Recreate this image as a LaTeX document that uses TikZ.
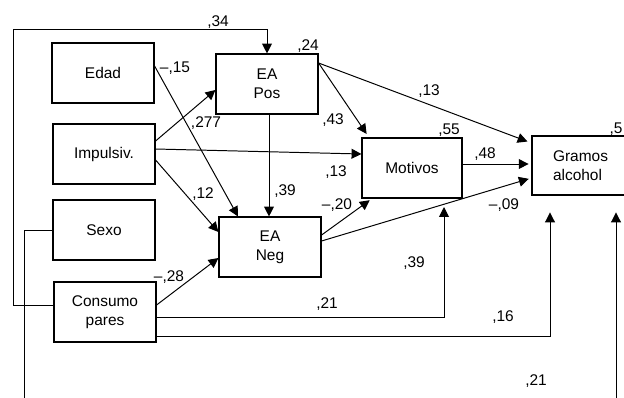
\documentclass[tikz,border=0pt]{standalone}
\usepackage{fontspec}
\setmainfont{Liberation Sans}
\usetikzlibrary{arrows.meta}

\tikzset{
  box/.style={draw, line width=0.8pt, minimum width=2.55cm, minimum height=1.5cm, align=center},
  arr/.style={-{Triangle[length=7pt,width=7pt]}},
}

\begin{document}
\begin{tikzpicture}[x=0.025cm, y=-0.025cm, line width=0.7pt,
  font=\fontsize{11}{13.5}\selectfont]
\useasboundingbox (0,0) rectangle (624,397);

% boxes
\node[box] (edad) at (103,73) {Edad};
\node[box] (impulsiv) at (104,154) {Impulsiv.};
\node[box] (sexo) at (104,230) {Sexo};
\node[box] (consumo) at (105,312) {Consumo\\pares};
\node[box] (ea pos) at (267,84) {EA\\Pos};
\node[box] (ea neg) at (270,247) {EA\\Neg};
\node[box, minimum width=2.5cm] (motivos) at (412,168) {Motivos};
\node[box, minimum width=2.5cm, minimum height=1.475cm, text width=1.45cm, align=left]
  (gramos) at (582,165.5) {Gramos\\alcohol};

% consumo pares -> EA Pos (top loop)
\draw[arr] (consumo.west |- 0,305) -- (13,305) -- (13,29) -- (ea pos.north |- 0,29) -- (ea pos.north);
\node at (218,22) {,34};

% sexo -> gramos alcohol (runs below the picture)
\draw[arr, shorten >=12pt] (sexo.west) -| (24,410) -| (gramos.south -| 616,0);
\node at (536,381) {,21};

% paths into EA Pos and EA Neg
\draw[arr] (impulsiv.east |- 0,141) -- (ea pos.west |- 0,90);
\node at (206,123) {,277};
\draw[arr] (edad.east |- 0,66) -- (ea neg.north -| 238,0);
\node at (175,68) {--,15};
\draw[arr] (impulsiv.east |- 0,160) -- (ea neg.west |- 0,232);
\node at (203,194) {,12};
\draw[arr] (consumo.east |- 0,305) -- (ea neg.west |- 0,258);
\node at (169,277) {--,28};
\draw[arr] (ea pos.south -| 269,0) -- (ea neg.north -| 269,0);
\node at (285,191) {,39};
\node at (308,46) {,24};

% paths into motivos
\draw[arr] (impulsiv.east |- 0,149) -- (motivos.west |- 0,154);
\node at (336,172) {,13};
\draw[arr, shorten >=3pt] (ea pos.east |- 0,63) -- (motivos.north -| 369,0);
\node at (333,120) {,43};
\draw[arr, shorten >=2pt] (ea neg.east |- 0,235) -- (motivos.south -| 372,0);
\node at (337,205) {--,20};
\draw[arr, shorten >=6pt] (consumo.east |- 0,317) -| (motivos.south -| 444,0);
\node at (327,304) {,21};
\node at (414,263) {,39};
\node at (449,130) {,55};

% paths into gramos alcohol
\draw[arr, shorten >=3pt] (ea pos.east |- 0,63) -- (gramos.west |- 0,143);
\node at (429,91) {,13};
\draw[arr, shorten >=2pt] (motivos.east |- 0,164) -- (gramos.west |- 0,164);
\node at (485,154) {,48};
\draw[arr, shorten >=2pt] (ea neg.east |- 0,241) -- (gramos.west |- 0,178);
\node at (504,205) {--,09};
\draw[arr, shorten >=12pt] (consumo.east |- 0,336) -| (gramos.south -| 550,0);
\node at (503,317) {,16};
\node[anchor=west, inner sep=0pt] at (609,129) {,5};

\end{tikzpicture}
\end{document}
